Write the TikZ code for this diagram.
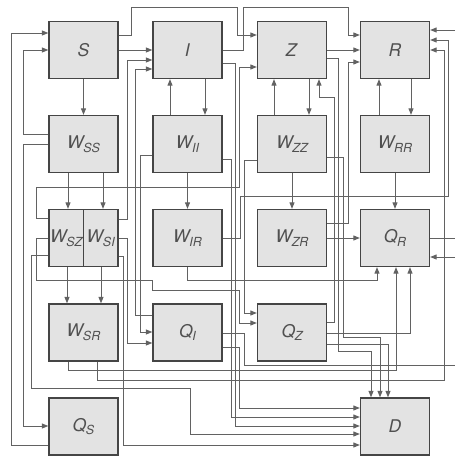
\documentclass[tikz,border=0pt]{standalone}
\usepackage{fontspec}
\setmainfont{TeX Gyre Heros}
\usetikzlibrary{arrows.meta,shadows}
\definecolor{boxfill}{HTML}{E3E3E3}
\definecolor{boxline}{HTML}{454545}
\definecolor{wire}{HTML}{626262}
\definecolor{txt}{HTML}{505050}
\newcommand\lbl[2]{\textit{#1\kern-0.3pt\raisebox{-0.4ex}{\fontsize{12.5}{13}\selectfont #2}}}
\begin{document}
\begin{tikzpicture}[x=1pt,y=-1pt,
 box/.style={draw=boxline,line width=1.3pt,fill=boxfill,minimum width=69pt,minimum height=57pt,inner sep=0pt,text=txt,font=\fontsize{17.5}{20}\selectfont,drop shadow={shadow xshift=0.8pt,shadow yshift=-0.8pt,fill=black,opacity=0.15}},
 half/.style={box,minimum width=34.5pt},
 ln/.style={draw=wire,line width=0.9pt},
 arr/.style={ln,-{Triangle[length=6.5pt,width=5pt]}}]
\path[use as bounding box] (0,0) rectangle (455,460);
% nodes
\node[box] (S) at (83.5,50) {\textit{S}};
\node[box] (I) at (187.5,50) {\textit{I}};
\node[box] (Z) at (292,50) {\textit{Z}};
\node[box] (R) at (395,50) {\textit{R}};
\node[box] (WSS) at (83.5,144) {\lbl{W}{SS}};
\node[box] (WII) at (187.5,144) {\lbl{W}{II}};
\node[box] (WZZ) at (292,144) {\lbl{W}{ZZ}};
\node[box] (WRR) at (395,144) {\lbl{W}{RR}};
\node[half] (WSZ) at (66.25,238) {\lbl{W}{SZ}};
\node[half] (WSI) at (100.75,238) {\lbl{W}{SI}};
\node[box] (WIR) at (187.5,238) {\lbl{W}{IR}};
\node[box] (WZR) at (292,238) {\lbl{W}{ZR}};
\node[box] (QR) at (395,238) {\lbl{Q}{R}};
\node[box] (WSR) at (83.5,332.5) {\lbl{W}{SR}};
\node[box] (QI) at (187.5,332.5) {\lbl{Q}{I}};
\node[box] (QZ) at (292,332.5) {\lbl{Q}{Z}};
\node[box] (QS) at (83.5,426.5) {\lbl{Q}{S}};
\node[box] (D) at (395,426.5) {\textit{D}};
\coordinate (eR) at (455,30);
\coordinate (eQRo) at (455,238);
\coordinate (eQRi) at (455,257);
\coordinate (eQI) at (455,365);
% vertical links between neighbours
\draw[arr] (S.south) -- (WSS.north);
\draw[arr] (S.east) -- (I.west);
\draw[arr] (Z.east) -- (R.west);
\draw[arr] (I.south -| 205,0) -- (WII.north -| 205,0);
\draw[arr] (WII.north -| 170,0) -- (I.south -| 170,0);
\draw[arr] (Z.south -| 309,0) -- (WZZ.north -| 309,0);
\draw[arr] (WZZ.north -| 274,0) -- (Z.south -| 274,0);
\draw[arr] (R.south -| 411,0) -- (WRR.north -| 411,0);
\draw[arr] (WRR.north -| 379,0) -- (R.south -| 379,0);
\draw[arr] (WSS.south -| 68,0) -- (WSZ.north -| 68,0);
\draw[arr] (WSS.south -| 103,0) -- (WSI.north -| 103,0);
\draw[arr] (WII.south) -- (WIR.north);
\draw[arr] (WZZ.south) -- (WZR.north);
\draw[arr] (WRR.south) -- (QR.north);
\draw[arr] (WSZ.south -| 67,0) -- (WSR.north -| 67,0);
\draw[arr] (WSI.south -| 101,0) -- (WSR.north -| 101,0);
\draw[arr] (WZR.east) -- (QR.west);
% routed links
\draw[arr] (S.east |- 0,35) -- (131,35) -- (131,7) -- (237,7) -- (237,35) -- (Z.west |- 0,35);
\draw[arr] (I.east |- 0,50) -- (243,50) -- (243,7) -- (348,7) -- (348,35) -- (R.west |- 0,35);
\draw[arr] (QS.west |- 0,445) -- (11,445) -- (11,33) -- (S.west |- 0,33);
\draw[arr] (WSS.west |- 0,134) -- (23,134) -- (23,50) -- (S.west |- 0,50);
\draw[arr] (WSS.west |- 0,144) -- (23,144) -- (23,426) -- (QS.west |- 0,426);
\draw[arr] (WSZ.west |- 0,218) -- (36,218) -- (36,187) -- (239,187) -- (239,67) -- (Z.west |- 0,67);
\draw[arr] (WSZ.west |- 0,238) -- (36,238) -- (36,280) -- (152,280) -- (152,290) -- (239,290) -- (239,323) -- (QZ.west |- 0,323);
\draw[arr] (WSZ.west |- 0,255) -- (31,255) -- (31,388) -- (190,388) -- (190,434) -- (D.west |- 0,434);
\draw[arr] (WSI.east |- 0,219) -- (127,219) -- (127,60) -- (I.west |- 0,60);
\draw[arr] (WSI.east |- 0,238) -- (127,238) -- (127,343) -- (QI.west |- 0,343);
\draw[arr] (WSI.east |- 0,256) -- (123,256) -- (123,445) -- (D.west |- 0,445);
\draw[arr] (WII.west |- 0,155) -- (140,155) -- (140,332) -- (QI.west |- 0,332);
\draw[arr] (QI.west |- 0,315) -- (135,315) -- (135,69) -- (I.west |- 0,69);
\draw[arr] (WII.east |- 0,159) -- (231,159) -- (231,417) -- (D.west |- 0,417);
\draw[arr] (I.east |- 0,63) -- (235,63) -- (235,426) -- (D.west |- 0,426);
\draw[arr] (WIR.south) -- (WIR.south |- 0,280) -- (377,280) -- (QR.south -| 377,0);
\draw[arr] (WIR.east |- 0,238) -- (240,238) -- (240,196) -- (448,196) -- (448,40) -- (R.east |- 0,40);
\draw[arr] (WZZ.west |- 0,160) -- (244,160) -- (244,313) -- (QZ.west |- 0,313);
\draw[ln] (QI.east |- 0,333) -- (244,333) -- (244,365) -- (eQI);
\draw[arr] (QI.east |- 0,347) -- (239,347) -- (239,408) -- (D.west |- 0,408);
\draw[arr] (WZZ.east |- 0,157) -- (343,157) -- (343,337) -- (380,337) -- (D.north -| 380,0);
\draw[arr] (Z.east |- 0,58) -- (338,58) -- (338,351) -- (371,351) -- (D.north -| 371,0);
\draw[arr] (QZ.east |- 0,322) -- (334,322) -- (334,97) -- (319,97) -- (Z.south -| 319,0);
\draw[arr] (QZ.east |- 0,333) -- (410,333) -- (QR.south -| 410,0);
\draw[arr] (QZ.east |- 0,344) -- (388,344) -- (D.north -| 388,0);
\draw[arr] (WZR.east |- 0,223) -- (348,223) -- (348,62) -- (R.west |- 0,62);
\draw[arr] (WSR.south -| 68,0) -- (68,370) -- (396,370) -- (QR.south -| 396,0);
\draw[arr] (WSR.south -| 97,0) -- (97,380) -- (444,380) -- (444,50) -- (R.east |- 0,50);
\draw[arr] (eR) -- (R.east |- 0,30);
\draw[ln] (QR.east |- 0,238) -- (eQRo);
\draw[arr] (eQRi) -- (QR.east |- 0,257);
\end{tikzpicture}
\end{document}
